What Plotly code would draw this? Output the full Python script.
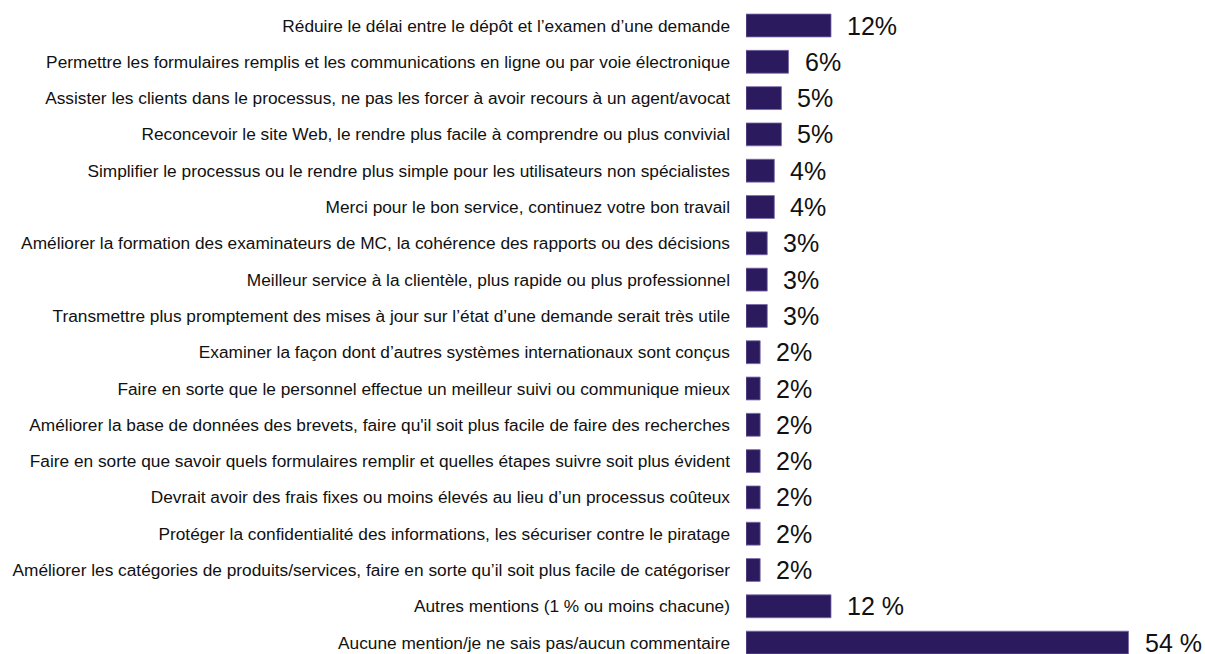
import plotly.graph_objects as go

categories = [
    "Réduire le délai entre le dépôt et l’examen d’une demande",
    "Permettre les formulaires remplis et les communications en ligne ou par voie électronique",
    "Assister les clients dans le processus, ne pas les forcer à avoir recours à un agent/avocat",
    "Reconcevoir le site Web, le rendre plus facile à comprendre ou plus convivial",
    "Simplifier le processus ou le rendre plus simple pour les utilisateurs non spécialistes",
    "Merci pour le bon service, continuez votre bon travail",
    "Améliorer la formation des examinateurs de MC, la cohérence des rapports ou des décisions",
    "Meilleur service à la clientèle, plus rapide ou plus professionnel",
    "Transmettre plus promptement des mises à jour sur l’état d’une demande serait très utile",
    "Examiner la façon dont d’autres systèmes internationaux sont conçus",
    "Faire en sorte que le personnel effectue un meilleur suivi ou communique mieux",
    "Améliorer la base de données des brevets, faire qu'il soit plus facile de faire des recherches",
    "Faire en sorte que savoir quels formulaires remplir et quelles étapes suivre soit plus évident",
    "Devrait avoir des frais fixes ou moins élevés au lieu d’un processus coûteux",
    "Protéger la confidentialité des informations, les sécuriser contre le piratage",
    "Améliorer les catégories de produits/services, faire en sorte qu’il soit plus facile de catégoriser",
    "Autres mentions (1 % ou moins chacune)",
    "Aucune mention/je ne sais pas/aucun commentaire",
]
values = [12, 6, 5, 5, 4, 4, 3, 3, 3, 2, 2, 2, 2, 2, 2, 2, 12, 54]
value_labels = ["12%", "6%", "5%", "5%", "4%", "4%", "3%", "3%", "3%", "2%", "2%", "2%",
                "2%", "2%", "2%", "2%", "12 %", "54 %"]

BAR_COLOR = "#2c1a5e"
FONT = "Liberation Sans, Arial, sans-serif"

fig = go.Figure()
fig.add_trace(go.Bar(
    x=values,
    y=categories,
    orientation="h",
    marker=dict(color=BAR_COLOR, line=dict(color="#7a6aa8", width=0.8)),
    hoverinfo="skip",
))

for cat, v, lab in zip(categories, values, value_labels):
    fig.add_annotation(
        x=v, y=cat, text=lab, showarrow=False,
        xanchor="left", yanchor="middle", xshift=14,
        font=dict(family=FONT, size=25, color="#111111"),
    )

fig.update_layout(
    width=1205,
    height=654,
    margin=dict(l=746, r=34, t=0, b=0),
    paper_bgcolor="white",
    plot_bgcolor="white",
    bargap=0.37,
    showlegend=False,
    font=dict(family=FONT, color="#111111"),
)
fig.update_xaxes(
    range=[0, 60], visible=False, showgrid=False, zeroline=False,
)
fig.update_yaxes(
    type="category",
    categoryorder="array",
    categoryarray=categories,
    range=[17.314, -0.7025],
    showgrid=False, zeroline=False, showline=False,
    ticks="", ticklabelstandoff=15,
    tickfont=dict(family=FONT, size=17.3, color="#111111"),
)

fig.write_html(
    "out.html",
    config={"displayModeBar": False},
    post_script="document.body.style.margin='0';document.body.style.overflow='hidden';",
)
